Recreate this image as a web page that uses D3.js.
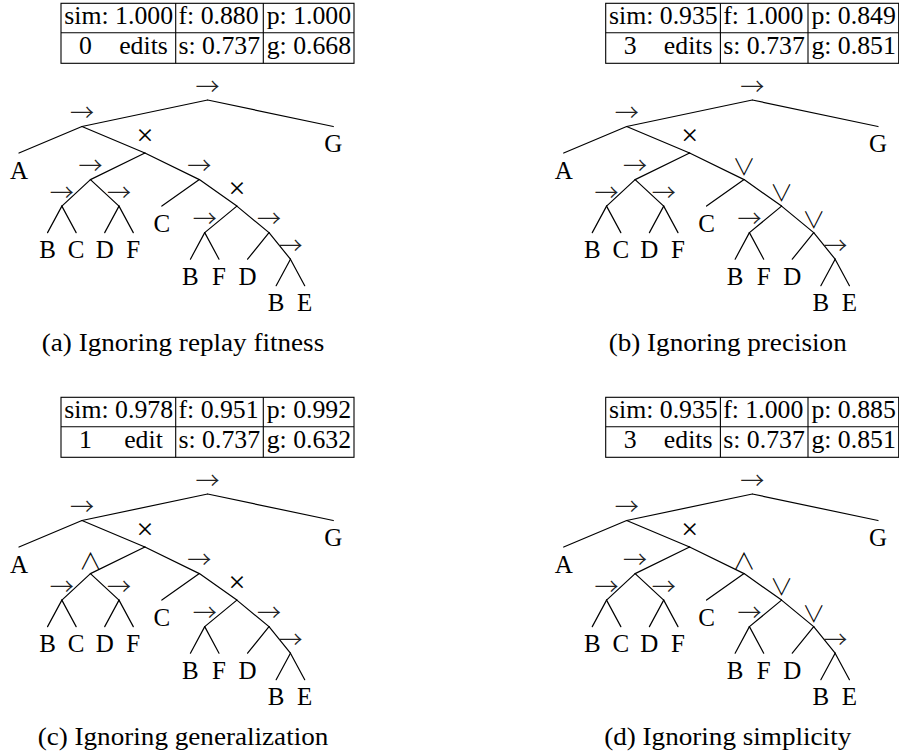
<!DOCTYPE html>
<html><head><meta charset="utf-8">
<script src="https://cdn.jsdelivr.net/npm/d3@7"></script>
<style>body{margin:0;background:#fff;} svg{display:block;}</style>
</head><body>
<svg id="chart" width="899" height="753"></svg>
<script>
// ---- data ----
const panelCaptions = ["(a) Ignoring replay fitness", "(b) Ignoring precision", "(c) Ignoring generalization", "(d) Ignoring simplicity"];
const simValues = ["1.000", "0.935", "0.978", "0.935"];
const fitnessValues = ["0.880", "1.000", "0.951", "1.000"];
const precisionValues = ["1.000", "0.849", "0.992", "0.885"];
const simplicityValues = ["0.737", "0.737", "0.737", "0.737"];
const generalizationValues = ["0.668", "0.851", "0.632", "0.851"];
const editCounts = [0, 3, 1, 3];
// process tree shape (leaves are activity labels)
const treeShape = [["A", [[["B", "C"], ["D", "F"]], ["C", [["B", "F"], ["D", ["B", "E"]]]]]], "G"];
// operators of internal nodes, in pre-order
const operatorsA = ["→", "→", "×", "→", "→", "→", "→", "×", "→", "→", "→"];
const operatorsB = ["→", "→", "×", "→", "→", "→", "∨", "∨", "→", "∨", "→"];
const operatorsC = ["→", "→", "×", "∧", "→", "→", "→", "×", "→", "→", "→"];
const operatorsD = ["→", "→", "×", "→", "→", "→", "∧", "∨", "→", "∨", "→"];
const panelOperators = [operatorsA, operatorsB, operatorsC, operatorsD];

// ---- layout ----
const FONT = "'Liberation Serif','DejaVu Serif',serif";
const OPFONT = "'Noto Sans CJK JP','Noto Sans CJK SC','DejaVu Sans',sans-serif";
const FS = 25;
const panelOrigins = [[0, 0], [544.7, 0], [0, 394], [544.7, 394]];
const colX = [61, 175.7, 263.3, 354];
const rowY = [3.3, 32.8, 63.3];

const svg = d3.select("#chart");

panelCaptions.forEach((caption, i) => {
  const [ox, oy] = panelOrigins[i];
  const g = svg.append("g").attr("transform", `translate(${ox},${oy})`)
    .attr("font-family", FONT).attr("font-size", FS).attr("fill", "#000");

  // table
  const tg = g.append("g");
  tg.append("rect").attr("x", colX[0]).attr("y", rowY[0])
    .attr("width", colX[3] - colX[0]).attr("height", rowY[2] - rowY[0])
    .attr("fill", "none").attr("stroke", "#000").attr("stroke-width", 1.1);
  tg.append("line").attr("x1", colX[0]).attr("x2", colX[3]).attr("y1", rowY[1]).attr("y2", rowY[1])
    .attr("stroke", "#000").attr("stroke-width", 1.1);
  [colX[1], colX[2]].forEach(x => tg.append("line").attr("x1", x).attr("x2", x)
    .attr("y1", rowY[0]).attr("y2", rowY[2]).attr("stroke", "#000").attr("stroke-width", 1.1));
  const b1 = rowY[0] + 20.8, b2 = rowY[1] + 20.8;
  tg.append("text").attr("x", colX[0] + 3.3).attr("y", b1).text("sim: " + simValues[i]);
  tg.append("text").attr("x", colX[1] + 2.8).attr("y", b1).text("f: " + fitnessValues[i]);
  tg.append("text").attr("x", colX[2] + 3.4).attr("y", b1).text("p: " + precisionValues[i]);
  tg.append("text").attr("x", 85.5).attr("y", b2).attr("text-anchor", "middle").text(editCounts[i]);
  tg.append("text").attr("x", 143.5).attr("y", b2).attr("text-anchor", "middle")
    .text(editCounts[i] === 1 ? "edit" : "edits");
  tg.append("text").attr("x", colX[1] + 2.8).attr("y", b2).text("s: " + simplicityValues[i]);
  tg.append("text").attr("x", colX[2] + 3.4).attr("y", b2).text("g: " + generalizationValues[i]);
  // stretch table text slightly toward Computer Modern widths
  tg.selectAll("text").each(function () {
    const w = this.getComputedTextLength();
    d3.select(this).attr("textLength", w * 1.03).attr("lengthAdjust", "spacingAndGlyphs");
  });

  // tree
  const root = d3.hierarchy(treeShape, d => Array.isArray(d) ? d : null);
  d3.cluster().nodeSize([1, 1]).separation(() => 1)(root);
  const ops = panelOperators[i];
  let k = 0;
  root.eachBefore(n => { if (n.children) n.op = ops[k++]; });
  const maxDepth = d3.max(root.leaves(), d => d.depth);
  const xScale = d3.scaleLinear().domain(d3.extent(root.leaves(), d => d.x)).range([19, 333.3]);
  const yScale = d3.scaleLinear().domain([0, maxDepth]).range([100, 285.7]);

  g.append("g").selectAll("line").data(root.links()).join("line")
    .attr("x1", d => xScale(d.source.x)).attr("y1", d => yScale(d.source.depth))
    .attr("x2", d => xScale(d.target.x)).attr("y2", d => yScale(d.target.depth))
    .attr("stroke", "#000").attr("stroke-width", 1.2).attr("stroke-linecap", "round");

  const internal = root.descendants().filter(n => n.children);
  g.append("g").selectAll("text").data(internal).join("text")
    .attr("x", d => xScale(d.x))
    .attr("y", d => yScale(d.depth) - (d.op === "×" ? 8.5 : d.op === "→" ? 5.5 : 5))
    .attr("text-anchor", "middle")
    .attr("font-family", d => d.op === "×" ? FONT : OPFONT)
    .attr("font-size", d => d.op === "→" ? 24 : d.op === "×" ? 30 : 23)
    .attr("font-weight", 300)
    .attr("fill", d => d.op === "→" ? "#222" : "#000")
    .text(d => d.op);

  g.append("g").selectAll("text").data(root.leaves()).join("text")
    .attr("x", d => xScale(d.x)).attr("y", d => yScale(d.depth) + 25.5)
    .attr("text-anchor", "middle").text(d => d.data);

  // caption
  const cap = g.append("text").attr("x", 183).attr("y", 350.5).attr("text-anchor", "middle").text(caption);
  cap.attr("textLength", cap.node().getComputedTextLength() * 1.085).attr("lengthAdjust", "spacingAndGlyphs");
});
</script>
</body></html>
